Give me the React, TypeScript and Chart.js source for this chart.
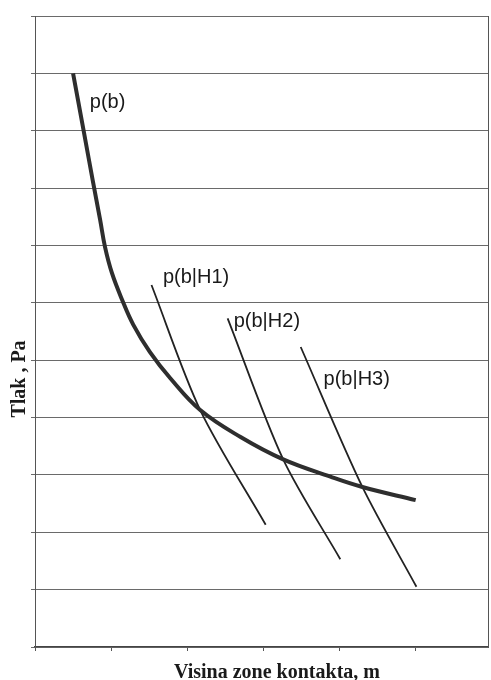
import React, { useEffect, useRef } from "react";
import { Chart, registerables } from "chart.js";

Chart.register(...registerables);

// p(b) curve
const pbX = [0.5, 0.65, 0.76, 0.855, 0.92, 1.01, 1.145, 1.29, 1.51, 1.78, 2.17, 2.7, 3.26, 3.88, 4.3, 5.0];
const pbY = [10.0, 8.92, 8.12, 7.45, 6.97, 6.52, 6.05, 5.62, 5.14, 4.68, 4.13, 3.66, 3.27, 2.97, 2.79, 2.56];

// p(b|H1..H3) lines
const h1X = [1.53, 2.17, 3.03];
const h1Y = [6.31, 4.13, 2.13];
const h2X = [2.53, 3.26, 4.01];
const h2Y = [5.73, 3.27, 1.53];
const h3X = [3.49, 4.3, 5.01];
const h3Y = [5.23, 2.79, 1.05];

const seriesLabels = ["p(b)", "p(b|H1)", "p(b|H2)", "p(b|H3)"];
// label anchors in data units (left edge, baseline)
const labelX = [0.72, 1.68, 2.61, 3.79];
const labelY = [9.39, 6.34, 5.57, 4.56];

const xTicks = [0, 1, 2, 3, 4, 5];
const xTitle = "Visina zone kontakta, m";
const yTitle = "Tlak , Pa";

const toPts = (xs: number[], ys: number[]) => xs.map((x, i) => ({ x, y: ys[i] }));

export default function App() {
  const ref = useRef<HTMLCanvasElement | null>(null);

  useEffect(() => {
    if (!ref.current) return;

    const textPlugin = {
      id: "textPlugin",
      afterDatasetsDraw(chart: any) {
        const { ctx, chartArea, scales } = chart;
        const xs = scales.x;
        const ys = scales.y;
        ctx.save();
        ctx.fillStyle = "#1a1a1a";
        ctx.font = '20px "Liberation Sans", Arial, sans-serif';
        ctx.textAlign = "left";
        ctx.textBaseline = "alphabetic";
        seriesLabels.forEach((t, i) => {
          ctx.fillText(t, xs.getPixelForValue(labelX[i]), ys.getPixelForValue(labelY[i]));
        });
        // x title
        ctx.font = 'bold 20px "Liberation Serif", "Times New Roman", serif';
        ctx.textAlign = "center";
        ctx.fillText(xTitle, 277, chartArea.bottom + 31);
        // y title
        ctx.translate(chartArea.left - 10, chartArea.top + 363);
        ctx.rotate(-Math.PI / 2);
        ctx.fillText(yTitle, 0, 0);
        ctx.restore();
      },
    };

    const lineDs = (label: string, xs: number[], ys: number[], color: string, w: number, tension: number) => ({
      label,
      data: toPts(xs, ys),
      showLine: true,
      borderColor: color,
      borderWidth: w,
      pointRadius: 0,
      tension,
      fill: false,
    });

    const chart = new Chart(ref.current, {
      type: "scatter",
      data: {
        datasets: [
          lineDs(seriesLabels[0], pbX, pbY, "#2e2e2e", 4, 0.4),
          lineDs(seriesLabels[1], h1X, h1Y, "#222222", 1.8, 0.3),
          lineDs(seriesLabels[2], h2X, h2Y, "#222222", 1.8, 0.3),
          lineDs(seriesLabels[3], h3X, h3Y, "#222222", 1.8, 0.3),
        ],
      },
      options: {
        animation: false,
        responsive: true,
        maintainAspectRatio: false,
        layout: { padding: { left: 31, right: 3, top: 16, bottom: 29 } },
        plugins: {
          legend: { display: false },
          tooltip: { enabled: false },
          title: { display: false },
        },
        scales: {
          x: {
            type: "linear",
            min: 0,
            max: 5.95,
            afterBuildTicks: (s: any) => {
              s.ticks = xTicks.map((v) => ({ value: v }));
            },
            ticks: { display: false },
            grid: {
              drawOnChartArea: false,
              drawTicks: true,
              tickLength: 4,
              color: "#555555",
            },
            border: { display: true, color: "#444444", width: 1.2 },
          },
          y: {
            type: "linear",
            min: 0,
            max: 11,
            ticks: { display: false, stepSize: 1 },
            grid: {
              drawTicks: true,
              tickLength: 4,
              color: "#6a6a6a",
              lineWidth: 1,
            },
            border: { display: true, color: "#555555", width: 1 },
          },
          y2: {
            type: "linear",
            position: "right",
            min: 0,
            max: 11,
            ticks: { display: false },
            grid: { display: false },
            border: { display: true, color: "#555555", width: 1 },
            afterFit: (s: any) => {
              s.width = 0;
            },
          },
        },
      },
      plugins: [textPlugin],
    } as any);

    return () => chart.destroy();
  }, []);

  return (
    <div style={{ position: "fixed", left: 0, top: 0, width: 491, height: 680, background: "#fff" }}>
      <canvas ref={ref} />
    </div>
  );
}
